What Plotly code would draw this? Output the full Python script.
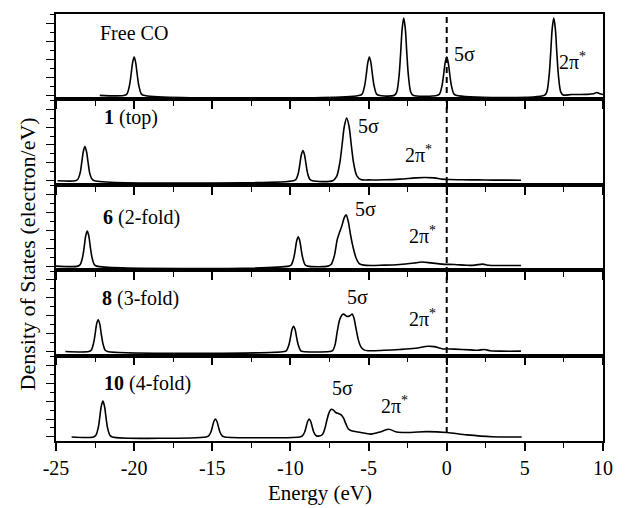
import plotly.graph_objects as go
from plotly.subplots import make_subplots

# ---------------- data ----------------
energy_ticks = [-25, -20, -15, -10, -5, 0, 5, 10]
tick_labels = ["-25", "-20", "-15", "-10", "-5", "0", "5", "10"]

panel_labels = ["Free CO", "<b>1</b> (top)", "<b>6</b> (2-fold)", "<b>8</b> (3-fold)", "<b>10</b> (4-fold)"]

free_co_x = [-22.2, -20.6, -20.45, -20.3, -20.2, -20.1, -20.0, -19.9, -19.8, -19.7, -19.55, -19.4,
             -5.55, -5.4, -5.25, -5.15, -5.05, -4.95, -4.85, -4.75, -4.65, -4.5, -4.35,
             -3.35, -3.2, -3.05, -2.95, -2.85, -2.75, -2.65, -2.55, -2.45, -2.3, -2.15,
             -0.6, -0.45, -0.3, -0.2, -0.1, 0.0, 0.1, 0.2, 0.3, 0.45, 0.6,
             6.25, 6.4, 6.55, 6.65, 6.75, 6.85, 6.95, 7.05, 7.15, 7.3, 7.45,
             8.0, 9.0, 9.4, 9.6, 9.8, 10.0]
free_co_y = [0, 0, 0.02, 0.12, 0.25, 0.40, 0.47, 0.40, 0.25, 0.12, 0.02, 0,
             0, 0.02, 0.12, 0.25, 0.40, 0.47, 0.40, 0.25, 0.12, 0.02, 0,
             0, 0.04, 0.24, 0.51, 0.82, 0.95, 0.82, 0.51, 0.24, 0.04, 0,
             0, 0.02, 0.12, 0.25, 0.40, 0.47, 0.40, 0.25, 0.12, 0.02, 0,
             0, 0.04, 0.24, 0.51, 0.82, 0.95, 0.82, 0.51, 0.24, 0.04, 0.005,
             0.01, 0.012, 0.02, 0.035, 0.02, 0.01]

top_x = [-24.9, -23.75, -23.6, -23.45, -23.35, -23.25, -23.15, -23.05, -22.95, -22.85, -22.7, -22.55,
         -9.8, -9.65, -9.5, -9.4, -9.3, -9.2, -9.1, -9.0, -8.9, -8.75, -8.6,
         -7.3, -7.05, -6.85, -6.7, -6.55, -6.4, -6.25, -6.1, -5.95, -5.75, -5.5, -5.0,
         -4.0, -3.0, -2.0, -1.4, -0.8, -0.3, 0.2, 1.0, 2.0, 3.0, 4.0, 4.75]
top_y = [0, 0, 0.02, 0.10, 0.23, 0.36, 0.42, 0.36, 0.23, 0.10, 0.02, 0,
         0, 0.015, 0.09, 0.20, 0.32, 0.37, 0.32, 0.20, 0.09, 0.015, 0,
         0, 0.05, 0.21, 0.43, 0.67, 0.77, 0.67, 0.43, 0.21, 0.06, 0.015, 0.01,
         0.012, 0.02, 0.035, 0.04, 0.035, 0.02, 0.015, 0.012, 0.01, 0.008, 0.007, 0.006]

twofold_x = [-25.0, -23.6, -23.45, -23.3, -23.2, -23.1, -23.0, -22.9, -22.8, -22.7, -22.55, -22.4,
             -10.1, -9.95, -9.8, -9.7, -9.6, -9.5, -9.4, -9.3, -9.2, -9.05, -8.9,
             -7.6, -7.4, -7.2, -7.0, -6.85, -6.7, -6.55, -6.44, -6.3, -6.15, -6.0, -5.8, -5.6, -5.3,
             -4.0, -3.0, -2.0, -1.6, -1.0, -0.3, 0.5, 1.3, 1.8, 2.3, 2.7, 3.5, 4.75]
twofold_y = [0, 0, 0.02, 0.11, 0.23, 0.37, 0.43, 0.37, 0.23, 0.11, 0.02, 0,
             0, 0.015, 0.09, 0.19, 0.31, 0.36, 0.31, 0.19, 0.09, 0.015, 0,
             0, 0.02, 0.12, 0.33, 0.42, 0.50, 0.60, 0.63, 0.55, 0.38, 0.24, 0.10, 0.03, 0.012,
             0.012, 0.02, 0.04, 0.05, 0.04, 0.025, 0.02, 0.01, 0.012, 0.025, 0.01, 0.008, 0.007]

threefold_x = [-24.4, -22.9, -22.75, -22.6, -22.5, -22.4, -22.3, -22.2, -22.1, -22.0, -21.85, -21.7,
               -10.4, -10.25, -10.1, -10.0, -9.9, -9.8, -9.7, -9.6, -9.5, -9.35, -9.2,
               -7.5, -7.3, -7.15, -7.0, -6.85, -6.7, -6.6, -6.45, -6.35, -6.2, -6.05, -5.95, -5.8, -5.65, -5.5, -5.3, -5.0,
               -4.0, -3.0, -2.0, -1.2, -0.8, -0.3, 0.5, 1.5, 2.0, 2.4, 2.8, 3.5, 4.75]
threefold_y = [0, 0, 0.015, 0.10, 0.21, 0.34, 0.39, 0.34, 0.21, 0.10, 0.015, 0,
               0, 0.012, 0.08, 0.17, 0.27, 0.31, 0.27, 0.17, 0.08, 0.012, 0,
               0, 0.01, 0.08, 0.25, 0.39, 0.45, 0.46, 0.44, 0.43, 0.44, 0.46, 0.42, 0.28, 0.14, 0.06, 0.02, 0.01,
               0.015, 0.025, 0.04, 0.065, 0.06, 0.035, 0.03, 0.02, 0.015, 0.025, 0.01, 0.005, 0.005]

fourfold_x = [-24.0, -22.6, -22.45, -22.3, -22.2, -22.1, -22.0, -21.9, -21.8, -21.7, -21.55, -21.4,
              -15.4, -15.25, -15.1, -15.0, -14.9, -14.8, -14.7, -14.6, -14.5, -14.35, -14.2,
              -9.4, -9.25, -9.1, -9.0, -8.9, -8.8, -8.7, -8.6, -8.5, -8.35, -8.2,
              -7.95, -7.8, -7.65, -7.5, -7.38, -7.25, -7.1, -6.9, -6.75, -6.6, -6.45, -6.3, -6.1,
              -5.5, -4.85, -4.2, -3.7, -3.2, -2.3, -1.3, 0.0, 1.3, 2.9, 4.8]
fourfold_y = [0, 0, 0.02, 0.11, 0.24, 0.38, 0.44, 0.38, 0.24, 0.11, 0.02, 0,
              0, 0.01, 0.055, 0.12, 0.19, 0.22, 0.19, 0.12, 0.055, 0.01, 0,
              0, 0.01, 0.055, 0.12, 0.19, 0.22, 0.19, 0.12, 0.055, 0.015, 0.01,
              0.03, 0.10, 0.22, 0.31, 0.34, 0.33, 0.30, 0.285, 0.27, 0.23, 0.16, 0.10, 0.075,
              0.055, 0.035, 0.065, 0.095, 0.06, 0.055, 0.065, 0.055, 0.025, 0.003, 0.0]

series_x = [free_co_x, top_x, twofold_x, threefold_x, fourfold_x]
series_y = [free_co_y, top_y, twofold_y, threefold_y, fourfold_y]

# ---------------- figure ----------------
FONT = "Liberation Serif, Times New Roman, serif"
fig = make_subplots(rows=5, cols=1, shared_xaxes=True, vertical_spacing=0)

for i, (xs, ys) in enumerate(zip(series_x, series_y)):
    fig.add_trace(go.Scatter(x=xs, y=ys, mode="lines",
                             line=dict(color="black", width=1.6, shape="spline", smoothing=0.9),
                             showlegend=False, hoverinfo="skip"), row=i + 1, col=1)

for r in range(1, 6):
    fig.update_yaxes(range=[-0.05, 1.0], showticklabels=False, showgrid=False, zeroline=False,
                     showline=True, linecolor="black", linewidth=1.5, mirror=True,
                     ticks="outside", ticklen=8, tickwidth=1.3, tickcolor="black",
                     tick0=0, dtick=0.22,
                     minor=dict(ticks="outside", ticklen=4, tickwidth=1.2, tickcolor="black", dtick=0.11, tick0=0),
                     fixedrange=True, row=r, col=1)
    fig.update_xaxes(range=[-25, 10], showgrid=False, zeroline=False,
                     showline=True, linecolor="black", linewidth=1.5, mirror=True,
                     ticks="outside", ticklen=8, tickwidth=1.5, tickcolor="black",
                     tickvals=energy_ticks, ticktext=tick_labels,
                     minor=dict(ticks="outside", ticklen=5, tickwidth=1.3, tickcolor="black", dtick=2.5, tick0=0),
                     tickfont=dict(family=FONT, size=20, color="black"),
                     row=r, col=1)

# dashed Fermi-level line
fig.add_shape(type="line", xref="x", yref="paper", x0=0, x1=0, y0=0.019, y1=1.0,
              line=dict(color="black", width=2, dash="6px,4px"))

ann = []
# panel labels
label_pos = [(-20.04, 0.767, "y"), (-20.22, 0.775, "y2"), (-19.53, 0.598, "y3"),
             (-19.6, 0.654, "y4"), (-19.16, 0.662, "y5")]
for txt, (lx, ly, yr) in zip(panel_labels, label_pos):
    ann.append(dict(x=lx, y=ly, xref="x", yref=yr, text=txt, showarrow=False,
                    font=dict(family=FONT, size=20, color="black")))
# 5 sigma labels
sig_pos = [(1.14, 0.51, "y"), (-5.02, 0.676, "y2"), (-5.21, 0.708, "y3"),
           (-5.71, 0.667, "y4"), (-6.65, 0.60, "y5")]
for sx, sy, yr in sig_pos:
    ann.append(dict(x=sx, y=sy, xref="x", yref=yr, text="5σ", showarrow=False,
                    font=dict(family=FONT, size=20, color="black")))
# 2 pi* labels
pi_pos = [(8.05, 0.42, "y"), (-1.81, 0.333, "y2"), (-1.56, 0.377, "y3"),
          (-1.56, 0.409, "y4"), (-3.32, 0.392, "y5")]
for px, py, yr in pi_pos:
    ann.append(dict(x=px, y=py, xref="x", yref=yr, text="2π<sup>*</sup>", showarrow=False,
                    font=dict(family=FONT, size=20, color="black")))
# axis titles
ann.append(dict(x=0.483, y=0, xref="paper", yref="paper", yanchor="middle", yshift=-52,
                text="Energy (eV)", showarrow=False, font=dict(family=FONT, size=21, color="black")))
ann.append(dict(x=0, y=0.437, xref="paper", yref="paper", xanchor="center", xshift=-29,
                text="Density of States (electron/eV)", textangle=-90, showarrow=False,
                font=dict(family=FONT, size=22, color="black")))

fig.update_layout(width=625, height=508, margin=dict(l=56, r=12, t=13, b=67),
                  paper_bgcolor="white", plot_bgcolor="white", annotations=ann,
                  font=dict(family=FONT, color="black"))

fig.write_html("out.html")
